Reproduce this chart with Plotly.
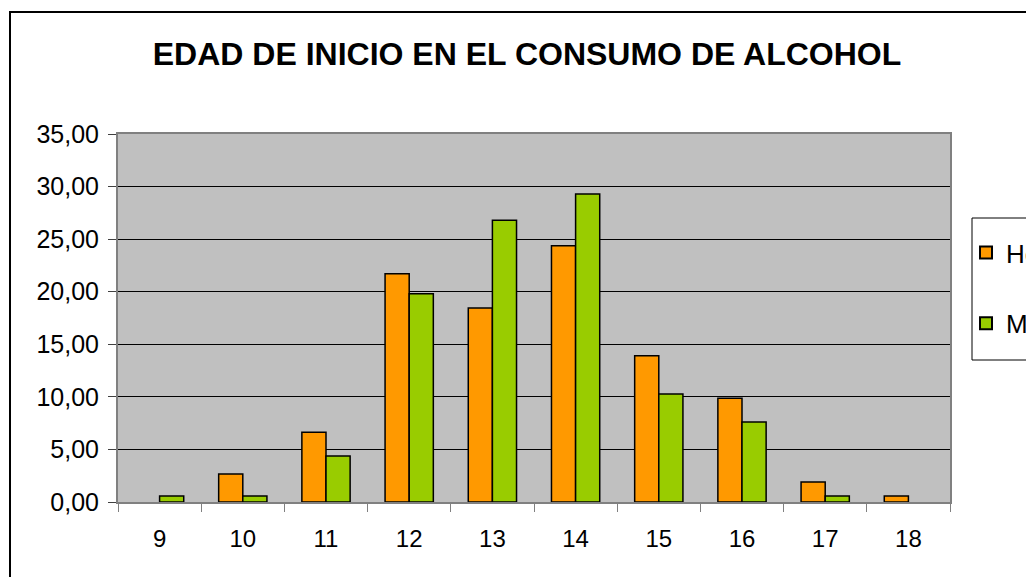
import plotly.graph_objects as go

ages = ["9", "10", "11", "12", "13", "14", "15", "16", "17", "18"]
hombres = [0.0, 2.66, 6.63, 21.7, 18.46, 24.36, 13.9, 9.87, 1.90, 0.57]
mujeres = [0.57, 0.57, 4.38, 19.8, 26.8, 29.3, 10.28, 7.61, 0.57, 0.0]
y_ticks = [0, 5, 10, 15, 20, 25, 30, 35]

W, H = 1026, 577
L, R, T, B = 118, 950, 134, 502
pw, ph = R - L, B - T


def px_x(px):
    return (px - L) / pw


def px_y(py):
    return (B - py) / ph


font_family = "Liberation Sans, Arial, sans-serif"


def outline_widths(vals):
    return [1.5 if v > 0 else 0 for v in vals]


fig = go.Figure()
fig.add_trace(go.Bar(
    x=ages, y=hombres, name="Hombres", legendgroup="h",
    marker=dict(color="#FF9900", line=dict(color="black", width=outline_widths(hombres))),
))
fig.add_trace(go.Bar(
    x=ages, y=mujeres, name="Mujeres", legendgroup="m",
    marker=dict(color="#99CC00", line=dict(color="black", width=outline_widths(mujeres))),
))

fig.update_layout(
    width=W, height=H,
    margin=dict(l=L, r=W - R, t=T, b=H - B, pad=0, autoexpand=False),
    paper_bgcolor="white",
    plot_bgcolor="#C0C0C0",
    separators=",.",
    barmode="group",
    bargap=0.42,
    bargroupgap=0,
    font=dict(family=font_family, size=24, color="black"),
    title=dict(
        text="<b>EDAD DE INICIO EN EL CONSUMO DE ALCOHOL</b>",
        x=527 / W, xanchor="center", xref="container",
        y=1 - 54 / H, yanchor="middle", yref="container",
        font=dict(family=font_family, size=32, color="black"),
    ),
    legend=dict(
        x=px_x(966), y=px_y(229), xanchor="left", yanchor="top",
        bgcolor="rgba(0,0,0,0)", borderwidth=0,
        font=dict(family=font_family, size=26, color="black"),
        traceorder="grouped", tracegroupgap=34,
        itemsizing="constant",
    ),
    showlegend=True,
    shapes=[
        # outer chart border
        dict(type="rect", xref="paper", yref="paper",
             x0=px_x(10), y0=px_y(640), x1=px_x(1060), y1=px_y(12),
             line=dict(color="black", width=2), fillcolor="rgba(0,0,0,0)",
             layer="below"),
        # legend box
        dict(type="rect", xref="paper", yref="paper",
             x0=px_x(972), y0=px_y(360), x1=px_x(1060), y1=px_y(218),
             line=dict(color="black", width=1), fillcolor="white",
             layer="below"),
    ],
)

fig.update_xaxes(
    type="category",
    tickson="boundaries",
    ticks="outside", ticklen=8, tickcolor="#808080", tickwidth=1,
    showline=True, linecolor="#808080", linewidth=2, mirror=True,
    showgrid=False,
    ticklabelstandoff=14,
    tickfont=dict(family=font_family, size=24, color="black"),
)
fig.update_yaxes(
    range=[0, 35],
    tickvals=y_ticks,
    tickformat=".2f",
    ticks="outside", ticklen=8, tickcolor="#404040", tickwidth=1,
    showline=True, linecolor="#808080", linewidth=2, mirror=True,
    showgrid=True, gridcolor="black", gridwidth=1,
    zeroline=False,
    ticklabelstandoff=4,
    tickfont=dict(family=font_family, size=25, color="black"),
)

fig.write_html(
    "out.html",
    config={"displayModeBar": False},
    post_script="document.body.style.margin='0';document.body.style.overflow='hidden';",
)
